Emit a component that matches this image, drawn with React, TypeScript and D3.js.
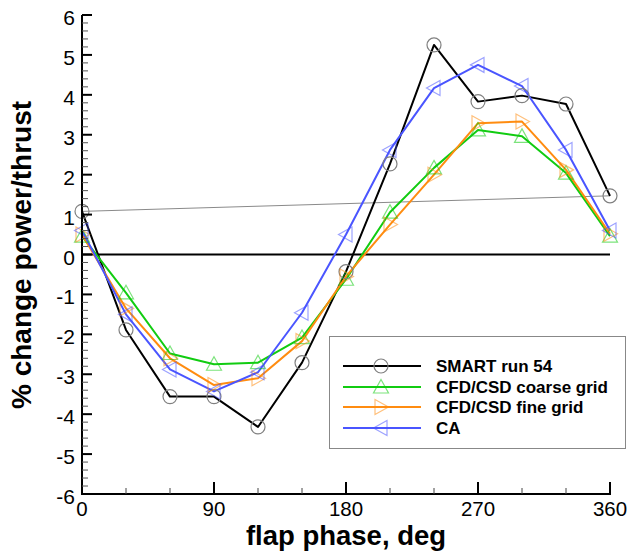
import React from "react";
import * as d3 from "d3";

const phases = [0, 30, 60, 90, 120, 150, 180, 210, 240, 270, 300, 330, 360];
const smart = [1.08, -1.89, -3.56, -3.56, -4.32, -2.71, -0.43, 2.27, 5.25, 3.83, 3.98, 3.77, 1.47];
const cfdCoarse = [0.46, -0.96, -2.48, -2.75, -2.71, -2.08, -0.62, 1.06, 2.17, 3.12, 2.96, 2.04, 0.46];
const cfdFine = [0.5, -1.35, -2.6, -3.27, -3.1, -2.17, -0.55, 0.75, 2.0, 3.29, 3.33, 2.12, 0.52];
const ca = [0.6, -1.5, -2.88, -3.43, -2.95, -1.46, 0.5, 2.62, 4.17, 4.75, 4.22, 2.62, 0.6];

const seriesNames = ["SMART run 54", "CFD/CSD coarse grid", "CFD/CSD fine grid", "CA"];
const xMajorTicks = [0, 90, 180, 270, 360];
const yMajorTicks = [-6, -5, -4, -3, -2, -1, 0, 1, 2, 3, 4, 5, 6];

const FONT = "'Liberation Sans', Arial, Helvetica, sans-serif";

type Marker = "circle" | "up" | "right" | "left";

function markerPath(type: Marker, s: number): string {
  const h = s * 0.5;
  if (type === "up") return `M0,${-h} L${h},${h * 0.8} L${-h},${h * 0.8} Z`;
  if (type === "right") return `M${h},0 L${-h * 0.8},${-h} L${-h * 0.8},${h} Z`;
  if (type === "left") return `M${-h},0 L${h * 0.8},${-h} L${h * 0.8},${h} Z`;
  return "";
}

export default function App() {
  const W = 632, H = 554;
  const x = d3.scaleLinear().domain([0, 360]).range([82, 610]);
  const y = d3.scaleLinear().domain([-6, 6]).range([494, 15]);

  const series = [
    { name: seriesNames[0], values: smart, color: "#000000", mColor: "#808080", marker: "circle" as Marker },
    { name: seriesNames[1], values: cfdCoarse, color: "#11cc11", mColor: "#11cc11", marker: "up" as Marker },
    { name: seriesNames[2], values: cfdFine, color: "#ff8c10", mColor: "#ff8c10", marker: "right" as Marker },
    { name: seriesNames[3], values: ca, color: "#4a55ff", mColor: "#4a55ff", marker: "left" as Marker },
  ];

  const line = d3
    .line<number>()
    .x((_, i) => x(phases[i]))
    .y((d) => y(d));

  const xMinor = d3.range(0, 361, 30).filter((v) => v % 90 !== 0);
  const yMinor = d3.range(-6, 6.001, 0.2).filter((v) => Math.abs(v - Math.round(v)) > 1e-6);

  const drawMarker = (type: Marker, cx: number, cy: number, color: string, key: string) => {
    if (type === "circle")
      return <circle key={key} cx={cx} cy={cy} r={7} fill="none" stroke={color} strokeWidth={1.2} />;
    return (
      <path
        key={key}
        d={markerPath(type, 15)}
        transform={`translate(${cx},${cy})`}
        fill="none"
        stroke={color}
        strokeOpacity={0.55}
        strokeWidth={1.2}
      />
    );
  };

  const legendRows = [366, 387, 407, 428];

  return (
    <svg width={W} height={H} style={{ position: "absolute", left: 0, top: 0, background: "#fff" }} fontFamily={FONT}>
      <rect x={0} y={0} width={W} height={H} fill="#fff" />
      {/* zero line */}
      <line x1={x(0)} x2={x(360)} y1={y(0)} y2={y(0)} stroke="#000" strokeWidth={2} />
      {/* thin gray line between first and last SMART values */}
      <line
        x1={x(phases[0])}
        y1={y(smart[0])}
        x2={x(phases[phases.length - 1])}
        y2={y(smart[smart.length - 1])}
        stroke="#8a8a8a"
        strokeWidth={1}
      />
      {/* series lines */}
      {series.map((s) => (
        <path key={s.name} d={line(s.values) || ""} fill="none" stroke={s.color} strokeWidth={2} strokeLinejoin="round" />
      ))}
      {/* markers */}
      {series.map((s) =>
        s.values.map((v, i) => drawMarker(s.marker, x(phases[i]), y(v), s.mColor, `${s.name}-${i}`))
      )}
      {/* axes */}
      <line x1={x(0)} x2={x(0)} y1={y(6)} y2={y(-6) + 1} stroke="#000" strokeWidth={2} />
      <line x1={x(0) - 1} x2={x(360) + 1} y1={y(-6)} y2={y(-6)} stroke="#000" strokeWidth={2} />
      {xMajorTicks.map((t) => (
        <g key={`xt${t}`}>
          <line x1={x(t)} x2={x(t)} y1={y(-6)} y2={y(-6) - 12} stroke="#000" strokeWidth={2} />
          <text x={x(t)} y={516} textAnchor="middle" fontSize={20.5} fill="#000">
            {t}
          </text>
        </g>
      ))}
      {xMinor.map((t) => (
        <line key={`xm${t}`} x1={x(t)} x2={x(t)} y1={y(-6)} y2={y(-6) - 6} stroke="#444" strokeWidth={1} />
      ))}
      {yMajorTicks.map((t) => (
        <g key={`yt${t}`}>
          <line x1={x(0)} x2={x(0) + 10} y1={y(t)} y2={y(t)} stroke="#000" strokeWidth={2} />
          <text x={75} y={y(t) + 10} textAnchor="end" fontSize={21} fill="#000">
            {t}
          </text>
        </g>
      ))}
      {yMinor.map((t, i) => (
        <line key={`ym${i}`} x1={x(0)} x2={x(0) + 6} y1={y(t)} y2={y(t)} stroke="#555" strokeWidth={1} />
      ))}
      {/* axis titles */}
      <text x={346} y={545} textAnchor="middle" fontSize={27.5} fontWeight="bold" fill="#000">
        flap phase, deg
      </text>
      <text
        transform={`translate(31,255) rotate(-90)`}
        textAnchor="middle"
        fontSize={28}
        fontWeight="bold"
        fill="#000"
      >
        % change power/thrust
      </text>
      {/* legend */}
      <rect x={329.5} y={336.5} width={296} height={112} fill="#fff" stroke="#888" strokeWidth={1} />
      {series.map((s, i) => (
        <g key={`lg${i}`}>
          <line x1={343} x2={421} y1={legendRows[i]} y2={legendRows[i]} stroke={s.color} strokeWidth={2} />
          {drawMarker(s.marker, 381, legendRows[i], s.mColor, `lgm${i}`)}
          <text x={436} y={legendRows[i]} dy="0.35em" fontSize={17} fontWeight="bold" fill="#000">
            {s.name}
          </text>
        </g>
      ))}
    </svg>
  );
}
